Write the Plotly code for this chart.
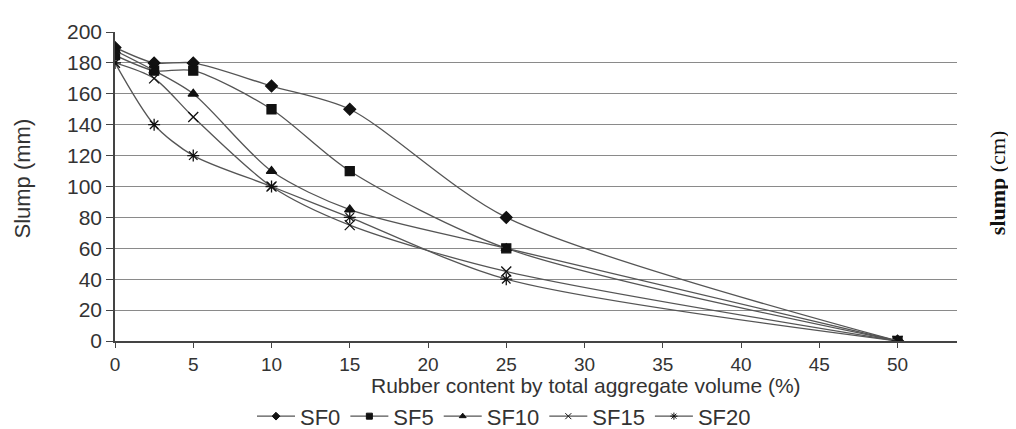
import plotly.graph_objects as go

rubber = [0, 2.5, 5, 10, 15, 25, 50]
sf0 = [190, 180, 180, 165, 150, 80, 0]
sf5 = [185, 175, 175, 150, 110, 60, 0]
sf10 = [188, 175, 160, 110, 85, 60, 0]
sf15 = [180, 170, 145, 100, 75, 45, 0]
sf20 = [180, 140, 120, 100, 80, 40, 0]

series = [
    ("SF0", sf0, "diamond", 9),
    ("SF5", sf5, "square", 9),
    ("SF10", sf10, "triangle-up", 9),
    ("SF15", sf15, "x-thin", 10),
    ("SF20", sf20, "asterisk", 10),
]

LINE = "#555555"
MARK = "#111111"

fig = go.Figure()
for name, ys, sym, sz in series:
    fig.add_trace(go.Scatter(
        x=rubber, y=ys, name=name, mode="lines+markers", showlegend=False,
        line=dict(color=LINE, width=1.3, shape="spline", smoothing=0.8),
        marker=dict(symbol=sym, size=sz, color=MARK, line=dict(color=MARK, width=1.3)),
    ))
# legend entries with small markers, as in the reference
for name, ys, sym, sz in series:
    fig.add_trace(go.Scatter(
        x=[None], y=[None], name=name, mode="lines+markers", showlegend=True,
        line=dict(color=LINE, width=1.3),
        marker=dict(symbol=sym, size=6, color=MARK, line=dict(color=MARK, width=1)),
    ))

fig.update_layout(
    width=1008, height=421,
    margin=dict(l=107, r=59, t=16, b=88),
    paper_bgcolor="white", plot_bgcolor="white",
    font=dict(family="Liberation Sans, Arial, sans-serif", size=20, color="#333333"),
    showlegend=True,
    legend=dict(orientation="h", xref="paper", x=0.462, xanchor="center",
                yref="container", y=0.03, yanchor="middle",
                font=dict(size=22, color="#333333"), itemwidth=38,
                tracegroupgap=0, bgcolor="rgba(0,0,0,0)"),
    xaxis=dict(range=[0, 53.8], tickvals=list(range(0, 55, 5)),
               showgrid=False, zeroline=False, showline=True, linecolor="#444444",
               linewidth=1.5, ticks="outside", ticklen=5, tickcolor="#444444",
               tickfont=dict(size=19, color="#333333")),
    yaxis=dict(range=[0, 200], tickvals=list(range(0, 201, 20)),
               showgrid=True, gridcolor="#8a8a8a", gridwidth=1.2,
               zeroline=False, showline=True, linecolor="#444444", linewidth=1.5,
               ticks="outside", ticklen=7, tickcolor="#444444",
               tickfont=dict(size=21, color="#333333")),
    annotations=[
        dict(text="Rubber content by total aggregate volume (%)", xref="paper", yref="paper",
             x=0.559, y=-0.145, xanchor="center", yanchor="middle", showarrow=False,
             font=dict(size=21, color="#333333")),
        dict(text="Slump (mm)", xref="paper", yref="paper", x=-0.110, y=0.527,
             xanchor="center", yanchor="middle", showarrow=False, textangle=-90,
             font=dict(size=22, color="#333333")),
        dict(text="<b>slump</b> (cm)", xref="paper", yref="paper", x=1.0475, y=0.514,
             xanchor="center", yanchor="middle", showarrow=False, textangle=-90,
             font=dict(size=22, color="#111111", family="Liberation Serif, Times New Roman, serif")),
    ],
)

fig.write_html("out.html")
